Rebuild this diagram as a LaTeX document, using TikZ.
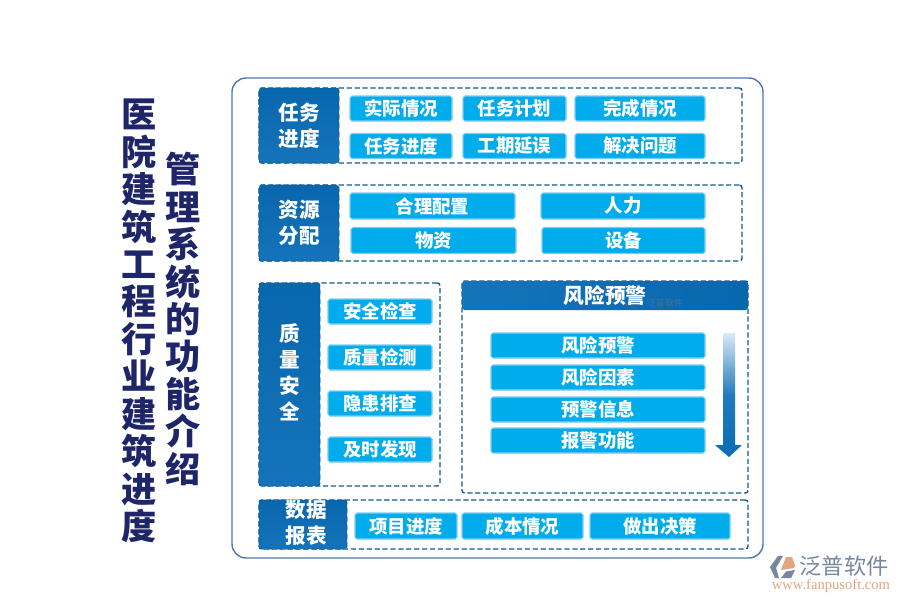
\documentclass[tikz,border=0pt]{standalone}
\usepackage{fontspec}
\setmainfont{Noto Sans CJK SC}
\newfontfamily\wwwfont{Liberation Serif}
\definecolor{fanpunavy}{RGB}{30,38,105}
\definecolor{fanpuitem}{RGB}{0,172,236}
\definecolor{fanpuedge}{RGB}{125,205,240}
\definecolor{fanpuhead}{RGB}{8,108,182}
\definecolor{fanpudash}{RGB}{20,90,140}
\definecolor{fanpuouter}{RGB}{80,120,175}
\definecolor{logogray}{RGB}{120,135,160}
\definecolor{logoorange}{RGB}{225,165,130}

\begin{document}
\begin{tikzpicture}[
    outerbox/.style={rectangle, rounded corners=8pt, draw=fanpuouter, line width=0.8pt,
                    minimum width=10.62cm, minimum height=9.6cm},
    framebox/.style={rectangle, rounded corners=1.5pt, draw=fanpudash, dash pattern=on 3pt off 1.5pt, line width=0.8pt, fill=white},
    headbox/.style={rectangle, rounded corners=1.5pt, draw=fanpudash, densely dashed, line width=0.5pt,
                    top color=fanpuhead!95!black, bottom color=fanpuhead!95!white, text=white,
                    align=center, font=\fontsize{11.7}{14.8}\selectfont\bfseries},
    itembox/.style={rectangle, rounded corners=1pt, fill=fanpuitem, draw=fanpuedge, line width=0.6pt,
                    minimum height=0.5cm, text=white, inner sep=0pt, font=\fontsize{10.5}{12}\selectfont\bfseries},
    titletext/.style={text=fanpunavy, align=center, inner sep=0pt, font=\fontsize{20}{21.3}\selectfont\bfseries}
]
    \useasboundingbox[fill=white] (0,0) rectangle (18,-12);

    % Titles
    \node[titletext] (title1) at (2.78,-6.42) {医\\院\\建\\筑\\工\\程\\行\\业\\建\\筑\\进\\度};
    \node[titletext] (title2) at (3.66,-6.38) {管\\理\\系\\统\\的\\功\\能\\介\\绍};

    \node[outerbox] (outer) at (9.95,-6.36) {};

    % Task progress
    \node[framebox, minimum width=9.66cm, minimum height=1.5cm] (taskframe) at (10.01,-2.51) {};
    \node[headbox, minimum width=1.6cm, minimum height=1.5cm] (task) at (5.98,-2.51) {任务\\进度};
    \node[itembox, minimum width=2.04cm] (actual) at (8.02,-2.17) {实际情况};
    \node[itembox, minimum width=2.06cm] (plan) at (10.29,-2.17) {任务计划};
    \node[itembox, minimum width=2.6cm] (done) at (12.8,-2.17) {完成情况};
    \node[itembox, minimum width=2.04cm] (progress) at (8.02,-2.92) {任务进度};
    \node[itembox, minimum width=2.06cm] (delay) at (10.29,-2.92) {工期延误};
    \node[itembox, minimum width=2.6cm] (solve) at (12.8,-2.92) {解决问题};

    % Resources
    \node[framebox, minimum width=9.66cm, minimum height=1.52cm] (resframe) at (10.01,-4.46) {};
    \node[headbox, minimum width=1.6cm, minimum height=1.52cm] (res) at (5.98,-4.46) {资源\\分配};
    \node[itembox, minimum width=3.3cm, minimum height=0.52cm] (config) at (8.65,-4.12) {合理配置};
    \node[itembox, minimum width=3.28cm, minimum height=0.52cm] (staff) at (12.46,-4.12) {人力};
    \node[itembox, minimum width=3.3cm, minimum height=0.52cm] (material) at (8.67,-4.81) {物资};
    \node[itembox, minimum width=3.26cm, minimum height=0.52cm] (device) at (12.47,-4.81) {设备};

    % Quality and safety
    \node[framebox, minimum width=3.62cm, minimum height=4.06cm] (qualframe) at (6.99,-7.69) {};
    \node[headbox, minimum width=1.22cm, minimum height=4.06cm] (qual) at (5.79,-7.69) {};
    \node[text=white, align=center, inner sep=0pt, font=\fontsize{11.7}{14.8}\selectfont\bfseries] (qualtext) at (5.79,-7.44) {质\\量\\安\\全};
    \node[itembox, minimum width=2.08cm] (safety) at (7.6,-6.23) {安全检查};
    \node[itembox, minimum width=2.08cm] (check) at (7.6,-7.15) {质量检测};
    \node[itembox, minimum width=2.08cm] (hazard) at (7.6,-8.07) {隐患排查};
    \node[itembox, minimum width=2.08cm] (found) at (7.6,-8.99) {及时发现};

    % Risk warning
    \node[framebox, minimum width=5.72cm, minimum height=4.24cm] (riskframe) at (12.1,-7.74) {};
    \node[headbox, draw=none, minimum width=5.72cm, minimum height=0.58cm, inner sep=0pt,
          left color=fanpuhead!95!white, right color=fanpuhead!95!black,
          font=\fontsize{11.8}{14}\selectfont\bfseries] (risk) at (12.1,-5.91) {风险预警};
    \node[text=gray, opacity=0.45, inner sep=0pt, font=\fontsize{5.2}{6}\selectfont] (mark) at (13.3,-6.06) {泛普软件};
    \node[itembox, minimum width=4.28cm] (warn) at (11.96,-6.91) {风险预警};
    \node[itembox, minimum width=4.28cm] (factor) at (11.96,-7.55) {风险因素};
    \node[itembox, minimum width=4.28cm] (info) at (11.96,-8.19) {预警信息};
    \node[itembox, minimum width=4.28cm] (alarm) at (11.96,-8.81) {报警功能};
    \shade[top color=fanpuhead!15!white, bottom color=fanpuhead, middle color=fanpuhead!90!white]
        (14.46,-6.66) -- (14.7,-6.66) -- (14.7,-8.9) -- (14.84,-8.9) -- (14.58,-9.14) -- (14.3,-8.9) -- (14.46,-8.9) -- cycle;

    % Data reports
    \node[framebox, minimum width=9.78cm, minimum height=0.98cm] (dataframe) at (10.07,-10.49) {};
    \node[headbox, minimum width=1.76cm, minimum height=0.98cm, inner sep=0pt] (data) at (6.06,-10.49) {};
    \node[text=white, align=center, inner sep=0pt, font=\fontsize{11.7}{14.8}\selectfont\bfseries] (datatext) at (6.12,-10.46) {数据\\报表};
    \node[itembox, minimum width=2.04cm, minimum height=0.52cm] (items) at (8.12,-10.52) {项目进度};
    \node[itembox, minimum width=2.42cm, minimum height=0.52cm] (cost) at (10.45,-10.52) {成本情况};
    \node[itembox, minimum width=2.8cm, minimum height=0.52cm] (decide) at (13.2,-10.52) {做出决策};

    % Logo
    \fill[logogray] (15.4,-11.34) -- (15.56,-11.12) -- (15.66,-11.12) -- (15.52,-11.36) -- (15.58,-11.56) -- (15.5,-11.56) -- cycle;
    \fill[logoorange] (15.62,-11.4) -- (15.72,-11.14) -- (15.84,-11.14) -- (15.9,-11.3) -- (15.88,-11.36) -- cycle;
    \fill[logogray] (15.62,-11.56) -- (15.72,-11.43) -- (15.9,-11.4) -- (15.82,-11.56) -- cycle;
    \node[text=logogray, inner sep=0pt, font=\fontsize{12.6}{14}\selectfont] (brand) at (16.88,-11.33) {泛普软件};
    \node[text=logoorange, inner sep=0pt, font=\wwwfont\fontsize{8.3}{9}\selectfont] (site) at (16.62,-11.72) {www.fanpusoft.com};
\end{tikzpicture}
\end{document}
